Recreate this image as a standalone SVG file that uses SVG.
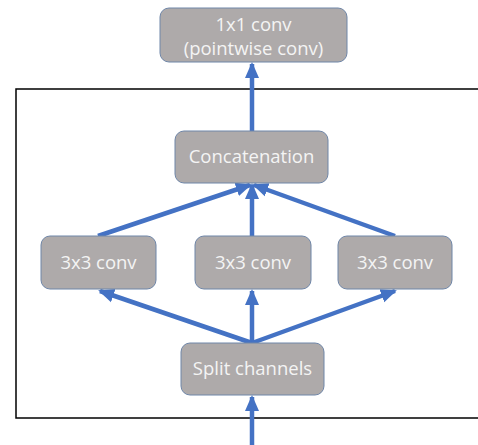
<svg xmlns="http://www.w3.org/2000/svg" width="478" height="445" viewBox="0 0 478 445">
<style>
.box{fill:#AEAAAA;stroke:#6F86A8;stroke-width:1}
.lbl{font-family:"Open Sans","Liberation Sans",sans-serif;font-size:18.5px;fill:#F4F4F4;text-anchor:middle}
.c{stroke:#4472C4;stroke-width:4.5;fill:none}
</style>
<defs>
<marker id="ah" markerUnits="userSpaceOnUse" markerWidth="16" markerHeight="16" viewBox="0 0 16 16" refX="14" refY="8" orient="auto">
<path d="M0,1 L16,8 L0,15 z" fill="#4472C4"/>
</marker>
</defs>
<rect x="16" y="89" width="470" height="329" fill="none" stroke="#000" stroke-width="1.5"/>
<g id="connectors">
<line class="c" x1="252" y1="131" x2="252" y2="64" marker-end="url(#ah)"/>
<line class="c" x1="252" y1="445" x2="252" y2="397" marker-end="url(#ah)"/>
<line class="c" x1="252" y1="343" x2="100" y2="291" marker-end="url(#ah)"/>
<line class="c" x1="252" y1="343" x2="252" y2="291" marker-end="url(#ah)"/>
<line class="c" x1="252" y1="343" x2="395" y2="291" marker-end="url(#ah)"/>
<line class="c" x1="98" y1="236" x2="250" y2="185" marker-end="url(#ah)"/>
<line class="c" x1="252" y1="236" x2="252" y2="185" marker-end="url(#ah)"/>
<line class="c" x1="395" y1="236" x2="254" y2="185" marker-end="url(#ah)"/>
</g>
<g id="pointwise">
<rect class="box" x="160" y="8" width="187" height="54" rx="9"/>
<text class="lbl" x="253.5" y="31">1x1 conv</text>
<text class="lbl" x="253.5" y="55">(pointwise conv)</text>
</g>
<g id="concat">
<rect class="box" x="175" y="131" width="153" height="52" rx="9"/>
<text class="lbl" x="251.5" y="163">Concatenation</text>
</g>
<g id="conv_left">
<rect class="box" x="41" y="236" width="115" height="53" rx="9"/>
<text class="lbl" x="98.5" y="269">3x3 conv</text>
</g>
<g id="conv_mid">
<rect class="box" x="195" y="236" width="116" height="53" rx="9"/>
<text class="lbl" x="253" y="269">3x3 conv</text>
</g>
<g id="conv_right">
<rect class="box" x="338" y="236" width="114" height="53" rx="9"/>
<text class="lbl" x="395" y="269">3x3 conv</text>
</g>
<g id="split">
<rect class="box" x="181" y="343" width="143" height="52" rx="9"/>
<text class="lbl" x="252.5" y="375">Split channels</text>
</g>
</svg>
